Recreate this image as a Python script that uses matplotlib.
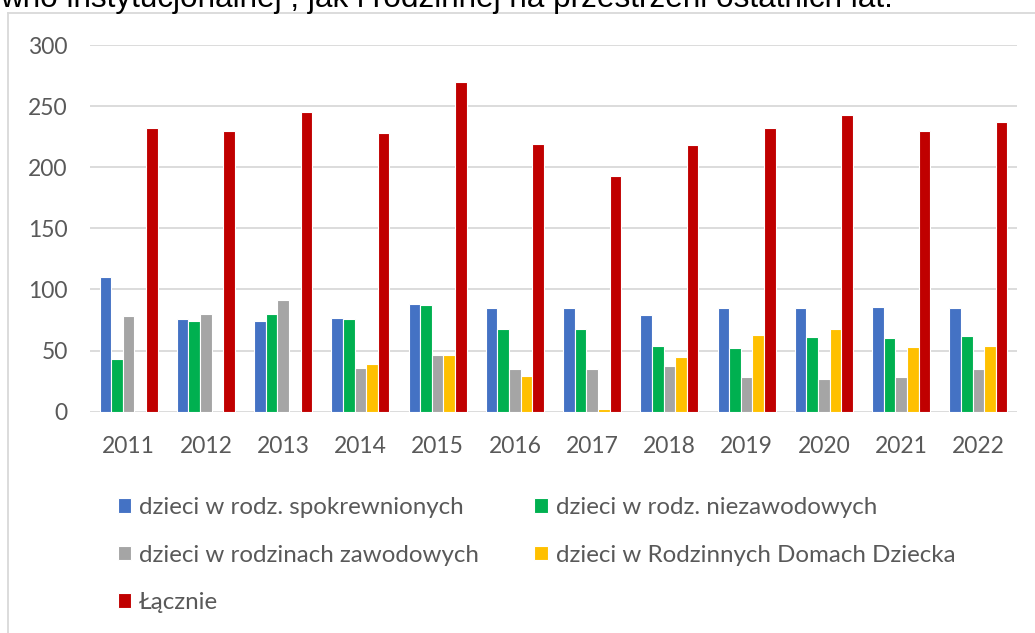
import matplotlib
matplotlib.use("Agg")
import matplotlib.pyplot as plt
from matplotlib.lines import Line2D
import numpy as np

years = ["2011", "2012", "2013", "2014", "2015", "2016", "2017", "2018", "2019", "2020", "2021", "2022"]
spokrewnione = [110, 76, 74, 77, 88, 85, 85, 79, 85, 85, 86, 85]
niezawodowe = [43, 74, 80, 76, 87, 68, 68, 54, 52, 61, 60, 62]
zawodowe = [78, 80, 91, 36, 46, 35, 35, 37, 28, 27, 28, 35]
rdd = [0, 0, 0, 39, 46, 29, 2, 45, 63, 68, 53, 54]
lacznie = [232, 230, 245, 228, 270, 219, 193, 218, 232, 243, 230, 237]

series_names = ["dzieci w rodz. spokrewnionych", "dzieci w rodz. niezawodowych",
                "dzieci w rodzinach zawodowych", "dzieci w Rodzinnych Domach Dziecka",
                "Łącznie"]
series_values = [spokrewnione, niezawodowe, zawodowe, rdd, lacznie]
colors = ["#4472C4", "#00B050", "#A5A5A5", "#FFC000", "#C00000"]
yticks = [0, 50, 100, 150, 200, 250, 300]

W, H = 1035, 633
fig = plt.figure(figsize=(W / 100, H / 100), dpi=100)
fig.patch.set_facecolor("white")

# chart frame (only left and top edges visible)
fig.add_artist(Line2D([8 / W, 8 / W], [0, 1 - 13 / H], transform=fig.transFigure,
                      color="#d9d9d9", lw=1.3))
fig.add_artist(Line2D([8 / W, 1], [1 - 13 / H, 1 - 13 / H], transform=fig.transFigure,
                      color="#d9d9d9", lw=1.3))

# cut-off document text above the chart
fig.text(0, 1 - 6.5 / H, "wno instytucjonalnej , jak i rodzinnej na przestrzeni ostatnich lat.",
         family="Liberation Sans", fontsize=22.7, color="black", ha="left", va="baseline")

left, right = 90 / W, 1017 / W
bottom, top = 1 - 411.7 / H, 1 - 45 / H
ax = fig.add_axes([left, bottom, right - left, top - bottom])

x = np.arange(len(years))
bw = 0.15
bars = []
for k, (vals, c, name) in enumerate(zip(series_values, colors, series_names)):
    b = ax.bar(x + (k - 2) * bw, vals, width=bw, color=c, edgecolor="white",
               linewidth=0.8, label=name, zorder=3)
    bars.append(b)

ax.set_xlim(-0.5, len(years) - 0.5)
ax.set_ylim(0, 300)
ax.set_yticks(yticks)
ax.set_yticklabels([str(v) for v in yticks])
ax.set_xticks(x)
ax.set_xticklabels(years)
for s in ax.spines.values():
    s.set_visible(False)
ax.grid(axis="y", color="#d9d9d9", linewidth=1.3, zorder=0)
ax.set_axisbelow(True)
ax.tick_params(axis="both", length=0, labelcolor="#595959", labelsize=16.5)
ax.tick_params(axis="x", pad=17.5)
ax.tick_params(axis="y", pad=16)
for lab in ax.get_xticklabels() + ax.get_yticklabels():
    lab.set_family("Lato")

order = [0, 2, 4, 1, 3]
leg = fig.legend([bars[i] for i in order], [series_names[i] for i in order],
                 ncol=2, loc="upper left", bbox_to_anchor=(118 / W, 1 - 497 / H),
                 frameon=False, borderpad=0, borderaxespad=0,
                 prop={"family": "Lato", "size": 17.4},
                 handlelength=0.54, handleheight=0.54, handletextpad=0.33,
                 labelspacing=1.1, columnspacing=2.3)
for t in leg.get_texts():
    t.set_color("#595959")

fig.savefig("out.png", dpi=100)
